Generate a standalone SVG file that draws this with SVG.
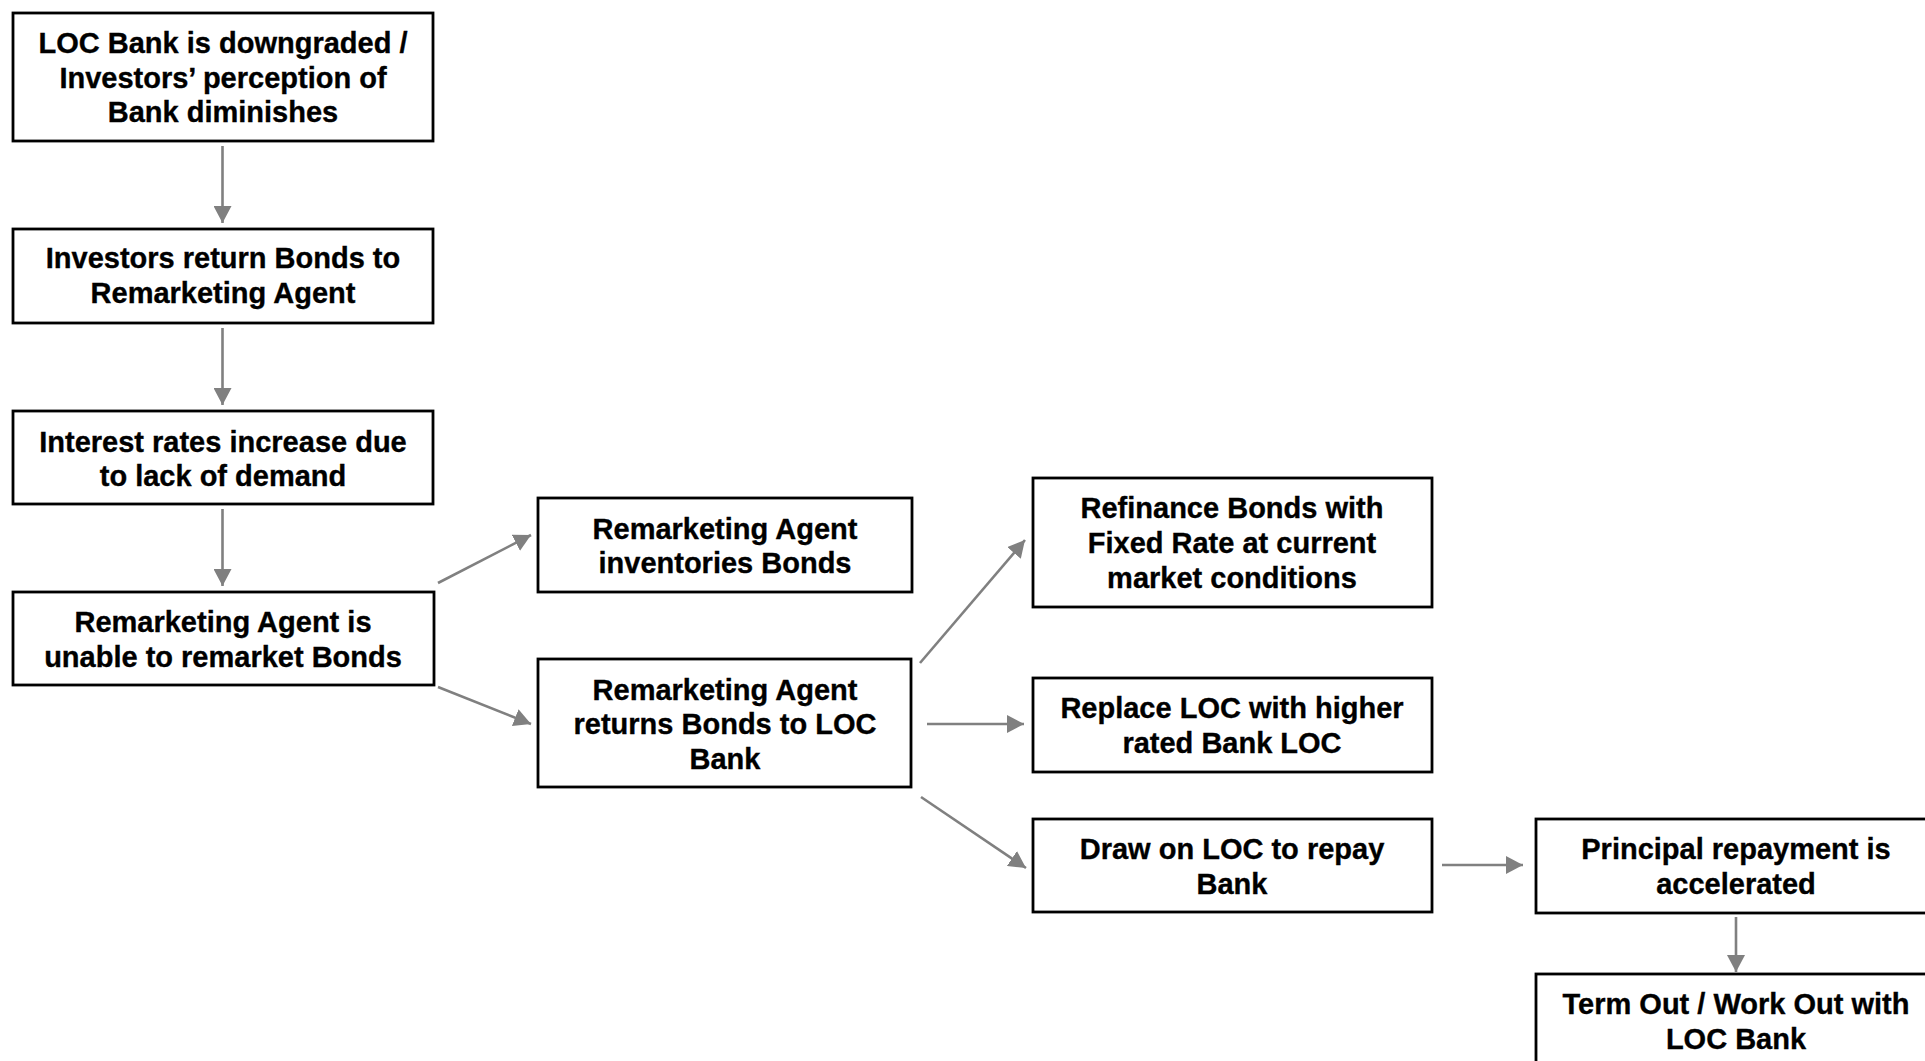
<svg xmlns="http://www.w3.org/2000/svg" width="1925" height="1061" viewBox="0 0 1925 1061">
<style>
.box{fill:#fff;stroke:#000;stroke-width:2.8}
.t{font-family:"Liberation Sans",Arimo,Arial,sans-serif;font-weight:700;font-size:29px;fill:#000;stroke:#000;stroke-width:0.35;text-anchor:middle}
.c{stroke:#808080;stroke-width:2.6;fill:none;marker-end:url(#ah)}
</style>
<defs>
<marker id="ah" viewBox="0 0 17 18" refX="17" refY="9" markerWidth="17" markerHeight="18" markerUnits="userSpaceOnUse" orient="auto">
<path d="M0,0 L17,9 L0,18 z" fill="#808080"/>
</marker>
</defs>
<rect width="1925" height="1061" fill="#fff"/>
<g id="connectors">
<line class="c" x1="222.5" y1="146" x2="222.5" y2="223"/>
<line class="c" x1="222.5" y1="328" x2="222.5" y2="405"/>
<line class="c" x1="222.5" y1="509" x2="222.5" y2="586"/>
<line class="c" x1="438" y1="583" x2="531" y2="535"/>
<line class="c" x1="438" y1="687" x2="531" y2="724"/>
<line class="c" x1="920" y1="663" x2="1025" y2="540"/>
<line class="c" x1="927" y1="724" x2="1024" y2="724"/>
<line class="c" x1="921" y1="797" x2="1026" y2="868"/>
<line class="c" x1="1442" y1="865" x2="1523" y2="865"/>
<line class="c" x1="1736" y1="917" x2="1736" y2="972"/>
</g>
<g id="n1"><rect class="box" x="13" y="13" width="420" height="128"/>
<text class="t" x="223" y="53">LOC Bank is downgraded /</text>
<text class="t" x="223" y="88">Investors’ perception of</text>
<text class="t" x="223" y="122">Bank diminishes</text></g>
<g id="n2"><rect class="box" x="13" y="229" width="420" height="94"/>
<text class="t" x="223" y="268">Investors return Bonds to</text>
<text class="t" x="223" y="303">Remarketing Agent</text></g>
<g id="n3"><rect class="box" x="13" y="411" width="420" height="93"/>
<text class="t" x="223" y="452">Interest rates increase due</text>
<text class="t" x="223" y="486">to lack of demand</text></g>
<g id="n4"><rect class="box" x="13" y="592" width="421" height="93"/>
<text class="t" x="223" y="632">Remarketing Agent is</text>
<text class="t" x="223" y="667">unable to remarket Bonds</text></g>
<g id="n5"><rect class="box" x="538" y="498" width="374" height="94"/>
<text class="t" x="725" y="539">Remarketing Agent</text>
<text class="t" x="725" y="573">inventories Bonds</text></g>
<g id="n6"><rect class="box" x="538" y="659" width="373" height="128"/>
<text class="t" x="725" y="700">Remarketing Agent</text>
<text class="t" x="725" y="734">returns Bonds to LOC</text>
<text class="t" x="725" y="769">Bank</text></g>
<g id="n7"><rect class="box" x="1033" y="478" width="399" height="129"/>
<text class="t" x="1232" y="518">Refinance Bonds with</text>
<text class="t" x="1232" y="553">Fixed Rate at current</text>
<text class="t" x="1232" y="588">market conditions</text></g>
<g id="n8"><rect class="box" x="1033" y="678" width="399" height="94"/>
<text class="t" x="1232" y="718">Replace LOC with higher</text>
<text class="t" x="1232" y="753">rated Bank LOC</text></g>
<g id="n9"><rect class="box" x="1033" y="819" width="399" height="93"/>
<text class="t" x="1232" y="859">Draw on LOC to repay</text>
<text class="t" x="1232" y="894">Bank</text></g>
<g id="n10"><rect class="box" x="1536" y="819" width="400" height="94"/>
<text class="t" x="1736" y="859">Principal repayment is</text>
<text class="t" x="1736" y="894">accelerated</text></g>
<g id="n11"><rect class="box" x="1536" y="974" width="400" height="95"/>
<text class="t" x="1736" y="1014">Term Out / Work Out with</text>
<text class="t" x="1736" y="1049">LOC Bank</text></g>
</svg>
